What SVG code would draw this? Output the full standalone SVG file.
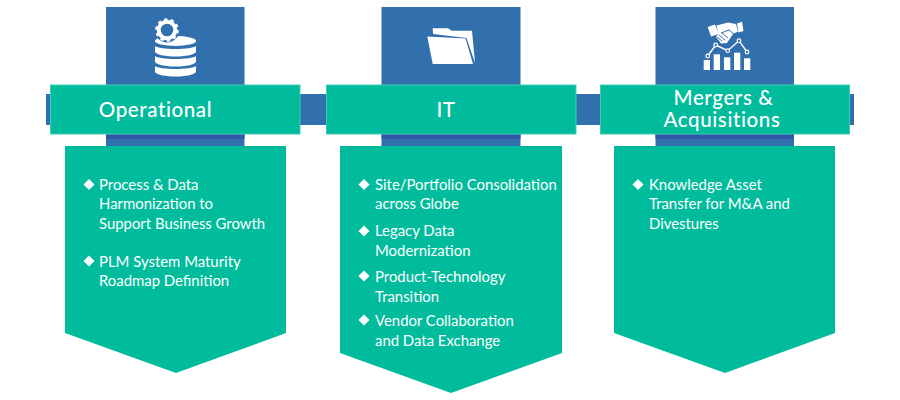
<svg xmlns="http://www.w3.org/2000/svg" width="900" height="400" viewBox="0 0 900 400">
<style>
.blue{fill:#326fad}
.strip{fill:#3056a6}
.teal{fill:#00bc9c}
.head{fill:#00bc9c;stroke:#3fcdb4;stroke-width:1}
.ic{fill:#fff}
.icl{fill:none;stroke:#fff;stroke-width:1.4}
.dot{fill:#326fad;stroke:#fff;stroke-width:1.2}
.cut{fill:none;stroke:#326fad;stroke-width:1}
.h{font-family:"Lato","Noto Sans",sans-serif;font-size:20.500px;font-weight:500;letter-spacing:.6px;fill:#fff;text-anchor:middle}
.t{font-family:"Lato","Noto Sans",sans-serif;font-size:14.900px;fill:#fff}
.b{fill:#fff}
</style>
<defs>
<path id="d" d="M0-5.500 5.500 0 0 5.500-5.500 0Z"/>
</defs>
<rect id="band" class="blue" x="46" y="94" width="808" height="31"/>
<g id="operational">
<rect class="blue" x="106" y="7" width="138.500" height="139"/>
<rect class="strip" x="106" y="134" width="138.500" height="5"/>
<g>
<ellipse class="ic" cx="175.500" cy="41" rx="20.500" ry="5"/>
<path class="ic" d="M155 46c4 4 37 4 41 0v6c-4 6-37 6-41 0ZM155 56c4 4 37 4 41 0v6c-4 6-37 6-41 0ZM155 66c4 4 37 4 41 0v6c-4 6-37 6-41 0Z"/>
<circle class="blue" cx="167" cy="30" r="12.500"/>
<circle cx="167" cy="30" r="8.300" fill="none" stroke="#fff" stroke-width="4"/>
<circle cx="167" cy="30" r="10.500" fill="none" stroke="#fff" stroke-width="2.600" stroke-dasharray="3.300 3.300"/>
</g>
<rect class="head" x="50.500" y="85" width="249.500" height="49"/>
<text class="h" x="155.500" y="116.500">Operational</text>
<path class="teal" d="M65 146H286V333L176 373 65 333Z"/>
<use class="b" href="#d" x="89" y="184.500"/>
<text class="t" x="99" y="190">Process &amp; Data</text>
<text class="t" x="99" y="209">Harmonization to</text>
<text class="t" x="99" y="229">Support Business Growth</text>
<use class="b" href="#d" x="89" y="261"/>
<text class="t" x="99" y="267">PLM System Maturity</text>
<text class="t" x="99" y="286">Roadmap Definition</text>
</g>
<g id="it">
<rect class="blue" x="381.500" y="7" width="139" height="139"/>
<rect class="strip" x="381.500" y="134" width="139" height="5"/>
<path class="ic" d="M432.700 28.300H448L451.700 30.700H472L475 63 466.500 38 433 34Z"/>
<path class="ic" d="M427.300 36.500L465.500 38.500 473 64H432.700Z"/>
<rect class="head" x="326.500" y="85" width="249.500" height="49"/>
<text class="h" x="446" y="116.500">IT</text>
<path class="teal" d="M340 146H562V353L451 393 340 353Z"/>
<use class="b" href="#d" x="364" y="184.500"/>
<text class="t" x="375" y="190">Site/Portfolio Consolidation</text>
<text class="t" x="375" y="209">across Globe</text>
<use class="b" href="#d" x="364" y="231"/>
<text class="t" x="375" y="236">Legacy Data</text>
<text class="t" x="375" y="256">Modernization</text>
<use class="b" href="#d" x="364" y="276"/>
<text class="t" x="375" y="282">Product-Technology</text>
<text class="t" x="375" y="302">Transition</text>
<use class="b" href="#d" x="364" y="320"/>
<text class="t" x="375" y="326">Vendor Collaboration</text>
<text class="t" x="375" y="346">and Data Exchange</text>
</g>
<g id="mergers">
<rect class="blue" x="655.500" y="7" width="138.500" height="139"/>
<rect class="strip" x="655.500" y="134" width="138.500" height="5"/>
<path class="ic" d="M707.700 27L715 24.500 719 34 711 36.500ZM737 23.500L742 21.700 743.500 31 738.500 32.500Z"/>
<path class="ic" d="M716.500 25.500L728 22.500 736 24 738 31.500 733 34 727 43 721 43.500 716 37 718.500 34Z"/>
<path class="cut" d="M721 33L729 30 735 35M717 37L722 41M719 35L725 40M722 33L728 38"/>
<path class="icl" d="M707.700 56L715.700 45 727.700 50.700 739 40.700 747 52"/>
<circle class="dot" cx="707.700" cy="56" r="1.800"/><circle class="dot" cx="715.700" cy="45" r="1.800"/><circle class="dot" cx="727.700" cy="50.700" r="1.800"/><circle class="dot" cx="739" cy="40.700" r="1.800"/><circle class="dot" cx="747" cy="52" r="1.800"/>
<rect class="ic" x="703.700" y="60" width="6.300" height="10"/><rect class="ic" x="713.700" y="54.300" width="6.300" height="15.700"/><rect class="ic" x="724" y="57.300" width="6.300" height="12.700"/><rect class="ic" x="734" y="52.700" width="6.300" height="17.300"/><rect class="ic" x="744" y="58.300" width="6.300" height="11.700"/>
<rect class="head" x="600.500" y="85" width="249" height="49"/>
<text class="h" x="723.500" y="104.500">Mergers &amp;</text>
<text class="h" x="722" y="126.500">Acquisitions</text>
<path class="teal" d="M614 146H835V333L725 373 614 333Z"/>
<use class="b" href="#d" x="638" y="184.500"/>
<text class="t" x="649" y="190">Knowledge Asset</text>
<text class="t" x="649" y="209">Transfer for M&amp;A and</text>
<text class="t" x="649" y="229">Divestures</text>
</g>
</svg>
